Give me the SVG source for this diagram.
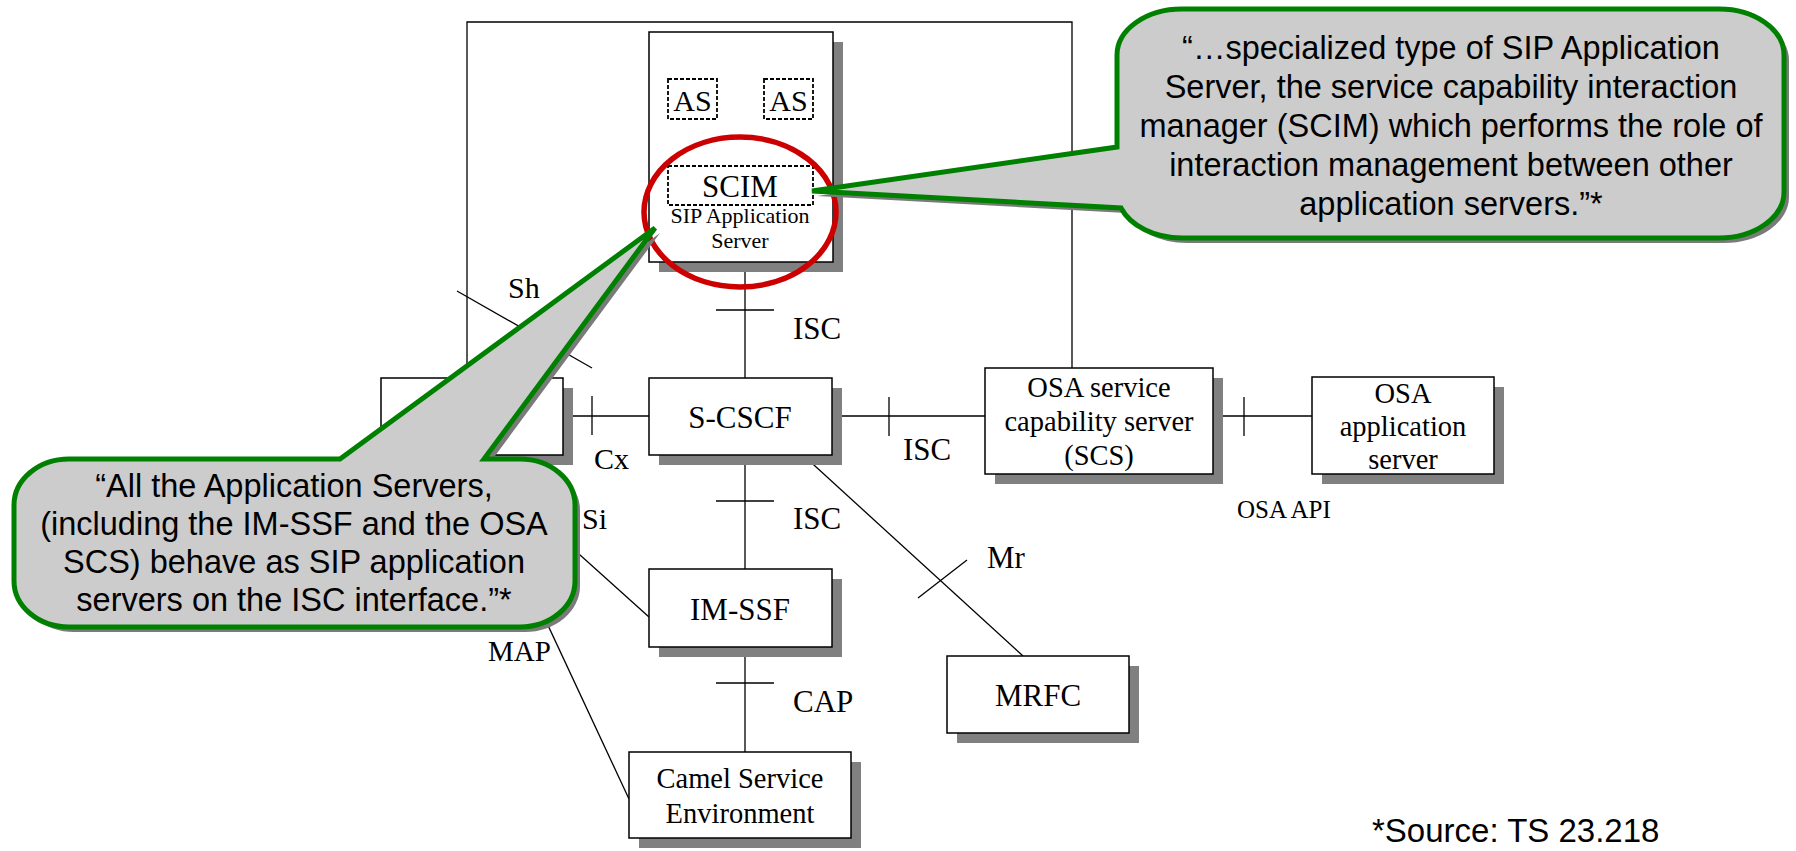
<svg xmlns="http://www.w3.org/2000/svg" width="1796" height="851" viewBox="0 0 1796 851">
  <style>
    .box { fill: #ffffff; stroke: #000000; stroke-width: 1.5; }
    .shadow { fill: #808080; stroke: none; }
    .dash { fill: #ffffff; stroke: #000000; stroke-width: 1.8; stroke-dasharray: 4 2; }
    .dot { fill: none; stroke: #000000; stroke-width: 1; stroke-dasharray: 1.5 1.5; }
    .line { fill: none; stroke: #000000; stroke-width: 1.3; }
    .serif { font-family: "Liberation Serif", "Times New Roman", serif; fill: #000000; }
    .c { text-anchor: middle; }
    .sans { font-family: "Liberation Sans", Arial, sans-serif; fill: #000000; text-anchor: middle; font-size: 32.5px; }
    .bubble { fill: #cccccc; stroke: #008000; stroke-width: 5; stroke-linejoin: miter; }
    .bubble-shadow { fill: #7a7a7a; stroke: none; }
    .ring { fill: none; stroke: #cc0000; stroke-width: 5.5; }
  </style>

  <rect width="1796" height="851" fill="#ffffff"/>

  <!-- Interface links and reference-point tick marks -->
  <g id="connectors">
    <!-- Sh: HSS over the top to the OSA SCS -->
    <polyline class="line" points="467,378 467,22 1072,22 1072,368"/>
    <line class="line" x1="457" y1="291" x2="592" y2="368"/>
    <!-- ISC: SIP AS to S-CSCF -->
    <line class="line" x1="745" y1="262" x2="745" y2="378"/>
    <line class="line" x1="716" y1="310" x2="774" y2="310"/>
    <!-- Cx: HSS to S-CSCF -->
    <line class="line" x1="563" y1="416" x2="649" y2="416"/>
    <line class="line" x1="592" y1="396" x2="592" y2="435"/>
    <!-- ISC: S-CSCF to OSA SCS -->
    <line class="line" x1="832" y1="416" x2="985" y2="416"/>
    <line class="line" x1="889" y1="397" x2="889" y2="436"/>
    <!-- OSA API -->
    <line class="line" x1="1213" y1="416" x2="1312" y2="416"/>
    <line class="line" x1="1244" y1="397" x2="1244" y2="436"/>
    <!-- ISC: S-CSCF to IM-SSF -->
    <line class="line" x1="745" y1="455" x2="745" y2="569"/>
    <line class="line" x1="716" y1="501" x2="774" y2="501"/>
    <!-- CAP: IM-SSF to Camel -->
    <line class="line" x1="745" y1="647" x2="745" y2="752"/>
    <line class="line" x1="716" y1="683" x2="774" y2="683"/>
    <!-- Mr: S-CSCF to MRFC -->
    <line class="line" x1="803" y1="455" x2="1023" y2="656"/>
    <line class="line" x1="918" y1="598" x2="967" y2="560"/>
    <!-- Si and MAP from the HSS -->
    <line class="line" x1="470" y1="456" x2="649" y2="617"/>
    <line class="line" x1="469" y1="456" x2="629" y2="799"/>
    <!-- SCIM to the application servers -->
    <line class="dot" x1="688" y1="120" x2="735" y2="166"/>
    <line class="dot" x1="792" y1="120" x2="755" y2="166"/>
  </g>

  <!-- Interface labels -->
  <g id="labels" class="serif">
    <text x="508" y="298" font-size="30">Sh</text>
    <text x="793" y="339" font-size="31">ISC</text>
    <text x="594" y="469" font-size="30">Cx</text>
    <text x="903" y="460" font-size="31">ISC</text>
    <text x="793" y="529" font-size="31">ISC</text>
    <text x="582" y="529" font-size="30">Si</text>
    <text x="987" y="568" font-size="31">Mr</text>
    <text x="488" y="661" font-size="29">MAP</text>
    <text x="793" y="712" font-size="31">CAP</text>
    <text x="1237" y="518" font-size="25">OSA API</text>
  </g>

  <g id="sip-as">
    <rect class="shadow" x="659" y="42" width="184" height="230"/>
    <rect class="box" x="649" y="32" width="184" height="230"/>
    <text class="serif c" x="740" y="223" font-size="22">SIP Application</text>
    <text class="serif c" x="740" y="248" font-size="22">Server</text>
  </g>
  <g id="as-1">
    <rect class="dash" x="668" y="79" width="49" height="40"/>
    <text class="serif c" x="692.5" y="111" font-size="30">AS</text>
  </g>
  <g id="as-2">
    <rect class="dash" x="764" y="79" width="49" height="40"/>
    <text class="serif c" x="788.5" y="111" font-size="30">AS</text>
  </g>
  <g id="scim">
    <rect class="dash" x="668" y="166" width="145" height="39"/>
    <text class="serif c" x="740" y="197" font-size="31">SCIM</text>
  </g>

  <g id="hss">
    <rect class="shadow" x="391" y="388" width="182" height="77"/>
    <rect class="box" x="381" y="378" width="182" height="77"/>
  </g>
  <g id="s-cscf">
    <rect class="shadow" x="659" y="388" width="183" height="77"/>
    <rect class="box" x="649" y="378" width="183" height="77"/>
    <text class="serif c" x="740" y="428" font-size="31">S-CSCF</text>
  </g>
  <g id="osa-scs">
    <rect class="shadow" x="995" y="378" width="228" height="106"/>
    <rect class="box" x="985" y="368" width="228" height="106"/>
    <text class="serif c" x="1099" y="397" font-size="28.5">OSA service</text>
    <text class="serif c" x="1099" y="431" font-size="28.5">capability server</text>
    <text class="serif c" x="1099" y="465" font-size="28.5">(SCS)</text>
  </g>
  <g id="osa-as">
    <rect class="shadow" x="1322" y="387" width="182" height="97"/>
    <rect class="box" x="1312" y="377" width="182" height="97"/>
    <text class="serif c" x="1403" y="403" font-size="28.5">OSA</text>
    <text class="serif c" x="1403" y="436" font-size="28.5">application</text>
    <text class="serif c" x="1403" y="469" font-size="28.5">server</text>
  </g>
  <g id="im-ssf">
    <rect class="shadow" x="659" y="579" width="183" height="78"/>
    <rect class="box" x="649" y="569" width="183" height="78"/>
    <text class="serif c" x="740" y="620" font-size="31">IM-SSF</text>
  </g>
  <g id="camel">
    <rect class="shadow" x="639" y="762" width="222" height="86"/>
    <rect class="box" x="629" y="752" width="222" height="86"/>
    <text class="serif c" x="740" y="788" font-size="28.5">Camel Service</text>
    <text class="serif c" x="740" y="823" font-size="28.5">Environment</text>
  </g>
  <g id="mrfc">
    <rect class="shadow" x="957" y="666" width="182" height="77"/>
    <rect class="box" x="947" y="656" width="182" height="77"/>
    <text class="serif c" x="1038" y="706" font-size="31">MRFC</text>
  </g>

  <!-- Highlight ring round the SCIM -->
  <ellipse id="scim-highlight" class="ring" cx="740" cy="212" rx="96" ry="75"/>

  <!-- Quote bubble pointing at the SCIM -->
  <g id="callout-scim">
    <path class="bubble-shadow" transform="translate(5,5)" d="M 1182,9 H 1719 A 65 46 0 0 1 1784,55 V 192 A 65 46 0 0 1 1719,238 H 1182 A 65 46 0 0 1 1121,208 L 812,191 L 1117,147 V 55 A 65 46 0 0 1 1182,9 Z"/>
    <path class="bubble" d="M 1182,9 H 1719 A 65 46 0 0 1 1784,55 V 192 A 65 46 0 0 1 1719,238 H 1182 A 65 46 0 0 1 1121,208 L 812,191 L 1117,147 V 55 A 65 46 0 0 1 1182,9 Z"/>
    <text class="sans" x="1451" y="59">“…specialized type of SIP Application</text>
    <text class="sans" x="1451" y="98">Server, the service capability interaction</text>
    <text class="sans" x="1451" y="137">manager (SCIM) which performs the role of</text>
    <text class="sans" x="1451" y="176">interaction management between other</text>
    <text class="sans" x="1451" y="215">application servers.”*</text>
  </g>

  <!-- Quote bubble pointing at the SIP Application Server -->
  <g id="callout-as">
    <path class="bubble-shadow" transform="translate(5,5)" d="M 69,459 H 340 L 655,228 L 484,459 H 520 A 55 46 0 0 1 575,505 V 581 A 55 46 0 0 1 520,627 H 69 A 55 46 0 0 1 14,581 V 505 A 55 46 0 0 1 69,459 Z"/>
    <path class="bubble" d="M 69,459 H 340 L 655,228 L 484,459 H 520 A 55 46 0 0 1 575,505 V 581 A 55 46 0 0 1 520,627 H 69 A 55 46 0 0 1 14,581 V 505 A 55 46 0 0 1 69,459 Z"/>
    <text class="sans" x="294" y="497">“All the Application Servers,</text>
    <text class="sans" x="294" y="535">(including the IM-SSF and the OSA</text>
    <text class="sans" x="294" y="573">SCS) behave as SIP application</text>
    <text class="sans" x="294" y="611">servers on the ISC interface.”*</text>
  </g>

  <text id="source-note" x="1372" y="842" font-family="Liberation Sans, Arial, sans-serif" font-size="33" fill="#000000">*Source: TS 23.218</text>
</svg>
